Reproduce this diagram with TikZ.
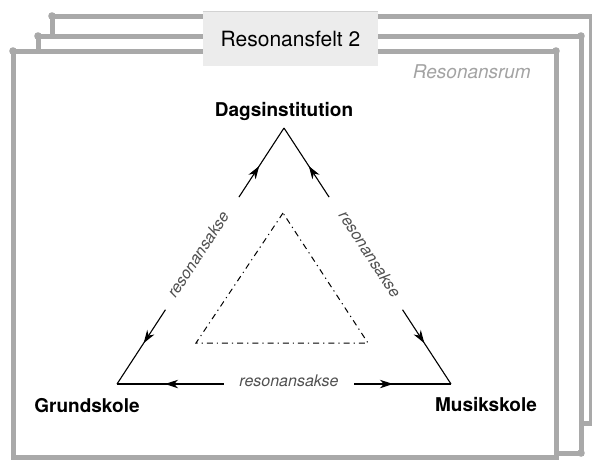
\documentclass[tikz,border=0pt]{standalone}
\usepackage{fontspec}
\setmainfont{TeX Gyre Heros}
\usetikzlibrary{arrows.meta,calc,decorations.markings}

\definecolor{framegray}{HTML}{A9A9A9}
\definecolor{boxgray}{HTML}{ECECEC}
\definecolor{boxedge}{HTML}{D2D2D2}
\definecolor{axisgray}{HTML}{505050}
\definecolor{roomgray}{HTML}{A3A3A3}

\tikzset{
  frameline/.style={draw=framegray, line width=5pt, line join=miter},
  framedot/.style={fill=framegray},
  titlebox/.style={fill=boxgray, minimum width=175pt, minimum height=54pt,
    inner sep=0pt, font=\fontsize{21}{25}\selectfont},
  vertexlabel/.style={anchor=base, font=\bfseries\fontsize{19}{23}\selectfont},
  axislabel/.style={anchor=mid, text=axisgray, inner sep=0pt,
    font=\itshape\fontsize{16}{19}\selectfont},
  roomlabel/.style={anchor=base east, text=roomgray, inner sep=0pt,
    font=\itshape\fontsize{19}{23}\selectfont},
  axisarrow/.style={line width=1.1pt, postaction={decorate},
    decoration={markings, mark=at position #1 with
      {\arrow{Stealth[length=13pt,width=8.5pt,inset=4pt]}}}},
  axisarrow/.default=0.45,
  innertri/.style={line width=1pt, dash pattern=on 6pt off 4pt on 1.2pt off 4pt}
}

\begin{document}
\begin{tikzpicture}[x=1pt,y=-1pt]
  \useasboundingbox (0,0) rectangle (592,459);

  % stacked frames, back to front
  \draw[frameline] (52,36) -- (52,16) -- (591,16) -- (591,423) -- (581,423);
  \fill[framedot] (52,16) circle (3.8pt);

  \draw[frameline] (38,51) -- (38,36) -- (581,36) -- (581,453) -- (556,453);
  \fill[framedot] (38,36) circle (3.8pt);
  \fill[framedot] (581,36) circle (3.8pt);
  \fill[framedot] (581,453) circle (3.8pt);

  \draw[frameline] (13,51) rectangle (556,457);
  \fill[framedot] (13,51) circle (3.8pt);
  \fill[framedot] (556,51) circle (3.8pt);

  % title box over the frame edges
  \node[titlebox] (title) at (290.5,39) {Resonansfelt 2};
  \draw[boxedge, line width=0.8pt] (title.north west) -- (title.north east);

  \node[roomlabel] (room) at (531,78) {Resonansrum};

  % triangle corners and their labels
  \coordinate (A) at (284,128);
  \coordinate (G) at (117,384);
  \coordinate (M) at (451,384);
  \node[vertexlabel] (dag) at (284,116) {Dagsinstitution};
  \node[vertexlabel] (grund) at (87,412) {Grundskole};
  \node[vertexlabel] (musik) at (486,411) {Musikskole};

  % ends of the gaps that hold the axis labels
  \coordinate (AG1) at ($(A)!0.27!(G)$);
  \coordinate (AG2) at ($(A)!0.71!(G)$);
  \coordinate (AM1) at ($(A)!0.27!(M)$);
  \coordinate (AM2) at ($(A)!0.71!(M)$);
  \coordinate (GM1) at ($(G)!0.32!(M)$);
  \coordinate (GM2) at ($(G)!0.71!(M)$);

  % resonance axes
  \draw[axisarrow] (AG1) -- (A);
  \draw[axisarrow] (AG2) -- (G);
  \draw[axisarrow] (AM1) -- (A);
  \draw[axisarrow] (AM2) -- (M);
  \draw[axisarrow=0.55] (GM1) -- (G);
  \draw[axisarrow=0.4] (GM2) -- (M);

  \node[axislabel, rotate=56.9] (axl) at ($(A)!0.5!(G)$) {resonansakse};
  \node[axislabel, rotate=-56.9] (axr) at ($(A)!0.5!(M)$) {resonansakse};
  \node[axislabel] (axb) at ($(G)!0.515!(M)$) {resonansakse};

  % inner dash-dotted triangle
  \coordinate (iA) at (283,213);
  \coordinate (iG) at (196,343);
  \coordinate (iM) at (368,343);
  \draw[innertri] (iA) -- (iG) -- (iM) -- cycle;
\end{tikzpicture}
\end{document}
